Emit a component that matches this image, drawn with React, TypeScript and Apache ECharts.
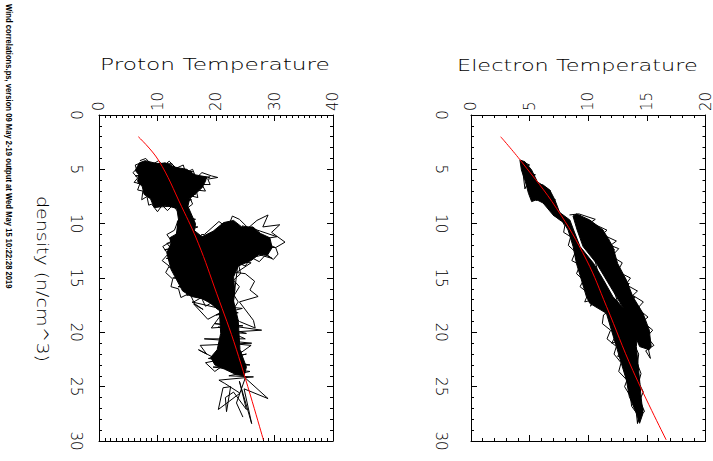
import React, { useEffect, useRef } from "react";
import * as echarts from "echarts";

// ---------- axis ranges ----------
const DENSITY_MAX = 30;
const DENSITY_STEP = 5;
const PROTON_T_MAX = 40;
const PROTON_T_STEP = 10;
const ELECTRON_T_MAX = 20;
const ELECTRON_T_STEP = 5;

// ---------- texts ----------
const TITLES = ["Proton Temperature", "Electron Temperature"];
const DENSITY_LABEL = "density (n/cm^3)";
const SIDE_NOTE =
  "Wind correlations.ps, version 09 May 2-19 output at Wed May 15 10:22:28 2019";

// ---------- data: [temperature, density] ----------
const PROTON_FIT = [
  [6.72, 2.0], [10.14, 4.14], [14.13, 8.44], [16.97, 11.8],
  [20.1, 16.4], [23.5, 21.6], [28.1, 29.9],
];
const ELECTRON_FIT = [
  [2.53, 2.0], [4.31, 4.3], [7.29, 8.58], [9.85, 13.34],
  [11.55, 17.6], [13.8, 23.5], [16.65, 29.9],
];

// dense (over-plotted) regions, outlined
const PROTON_BLOB_UPPER = [
  [6.9, 4.4], [7.9, 4.2], [10.1, 4.5], [11.3, 4.4], [13.0, 4.8], [15.0, 5.0],
  [16.4, 5.5], [18.4, 5.7], [18.2, 6.1], [17.6, 6.7], [16.6, 7.2],
  [15.5, 7.7], [15.2, 8.4], [16.5, 10.0], [16.2, 11.1], [13.2, 11.2], [13.7, 10.0],
  [13.3, 8.6], [11.3, 8.3], [9.4, 8.5], [8.8, 7.7], [7.7, 7.3], [7.4, 6.6],
  [6.6, 6.1], [6.8, 5.5], [6.2, 5.1], [6.6, 4.7],
];
const PROTON_BLOB_MIDDLE = [
  [14.1, 9.5], [15.3, 10.2], [17.6, 11.2], [19.5, 10.7], [21.3, 9.9], [23.0, 9.7],
  [24.4, 10.3], [26.3, 10.3], [27.6, 10.9], [29.2, 11.3], [29.6, 12.2], [28.8, 12.9],
  [27.4, 12.8], [26.0, 13.4], [23.8, 13.9], [23.0, 14.9], [23.2, 16.1], [22.9, 17.6],
  [22.0, 18.4], [20.3, 17.9], [19.0, 17.3], [17.6, 16.9], [15.8, 16.7], [14.3, 16.2],
  [13.2, 15.1], [12.3, 14.2], [11.6, 12.7], [12.3, 11.8], [12.1, 11.3], [13.4, 10.9],
  [13.4, 9.8],
];
const PROTON_BLOB_LOWER = [
  [20.8, 17.1], [23.0, 17.1], [23.8, 18.9], [24.1, 21.6], [25.2, 23.2], [24.8, 24.0],
  [23.5, 23.9], [21.5, 23.4], [19.8, 23.0], [19.1, 22.3], [20.2, 21.6], [20.8, 20.1],
  [20.6, 18.2],
];
const ELECTRON_BLOB_STRAND = [
  [4.17, 4.14], [4.6, 4.3], [5.17, 5.06], [5.73, 6.3], [6.15, 6.44], [6.72, 6.9],
  [7.15, 7.8], [7.57, 9.0], [8.0, 9.96], [7.57, 9.66], [7.0, 9.2], [6.15, 8.1],
  [5.6, 7.8], [5.17, 7.97], [4.9, 7.2], [4.6, 6.0], [4.3, 5.06],
];
const ELECTRON_BLOB_LOWER = [
  [7.29, 8.74], [8.28, 10.58], [8.71, 12.11], [8.99, 13.65], [9.42, 15.18], [9.84, 16.71],
  [10.13, 17.33], [11.55, 18.25], [11.97, 19.78], [12.4, 21.31], [12.82, 22.85],
  [13.25, 24.38], [13.5, 25.91], [14.1, 27.45], [14.38, 28.37], [14.67, 27.45],
  [14.5, 25.91], [14.38, 24.38], [14.24, 22.85], [14.1, 21.31], [14.24, 19.78],
  [13.4, 18.25], [12.1, 16.71], [11.3, 15.18], [10.45, 13.65], [9.3, 12.11],
  [8.75, 10.58], [8.43, 9.66],
];
const ELECTRON_BLOB_UPPER = [
  [8.7, 9.3], [9.05, 10.58], [9.56, 12.11], [10.7, 13.65], [11.55, 15.18], [12.4, 16.71],
  [13.25, 18.25], [13.8, 19.78], [14.38, 21.31], [15.2, 21.6], [15.37, 21.31],
  [15.2, 19.78], [14.67, 18.25], [13.8, 16.71], [13.25, 15.18], [12.5, 13.65],
  [12.1, 12.11], [11.26, 10.58], [10.13, 9.66], [9.0, 9.1],
];

// plotted trace (scribble strokes)
const PROTON_TRACE = [
  [7.0, 4.2], [8.0, 4.0], [9.0, 4.6], [10.2, 4.2], [11.0, 4.7], [12.0, 4.25],
  [13.2, 4.9], [14.4, 4.6], [14.8, 5.3], [16.0, 5.0], [16.6, 5.8], [17.6, 5.3],
  [19.2, 5.6], [20.3, 5.75], [18.6, 5.9], [19.0, 6.4], [17.6, 6.4], [18.2, 7.0],
  [16.6, 6.9], [16.9, 7.6], [15.4, 7.4], [16.0, 8.2], [15.0, 8.6], [14.2, 8.1],
  [13.5, 8.9], [12.6, 8.3], [11.7, 8.8], [10.8, 8.3], [10.0, 8.9], [9.0, 8.2],
  [8.5, 8.3], [8.2, 7.5], [7.3, 7.8], [7.5, 7.0], [6.6, 6.9], [7.0, 6.3],
  [6.0, 6.2], [6.6, 5.8], [5.8, 5.3], [6.4, 5.0], [6.2, 4.6], [7.2, 4.4],
  [12.5, 4.5], [6.5, 5.0], [16.0, 5.2], [6.2, 5.6], [19.0, 5.7], [17.5, 6.0],
  [6.6, 6.3], [17.8, 6.6], [7.5, 7.0], [16.5, 7.3], [8.5, 7.6], [15.8, 7.8],
  [9.5, 8.5], [14.5, 8.3], [13.8, 9.2], [16.5, 9.6], [13.5, 10.2], [16.9, 10.3],
  [13.2, 11.0], [13.6, 9.6], [12.9, 10.6], [11.6, 11.0], [12.4, 11.6], [10.9, 12.1],
  [11.8, 12.8], [10.8, 13.4], [12.0, 13.9], [11.4, 14.5], [12.6, 15.1], [12.3, 15.8],
  [13.6, 16.0], [14.0, 16.8], [15.5, 16.4], [16.2, 17.2], [17.5, 16.8], [18.2, 17.6],
  [19.5, 17.2], [11.6, 11.8], [18.0, 11.6], [11.2, 12.4], [19.5, 12.3], [11.5, 13.2],
  [20.5, 13.5], [12.0, 14.0], [21.0, 14.4], [12.6, 15.0], [22.5, 15.3], [13.5, 15.8],
  [23.0, 16.2], [15.0, 16.6], [17.5, 11.0], [18.0, 11.0], [20.5, 9.8], [22.0, 10.4],
  [22.8, 9.3], [24.0, 9.6], [25.5, 10.4], [27.0, 9.7], [28.9, 9.2], [28.0, 10.3],
  [30.9, 10.1], [29.5, 10.8], [31.8, 11.7], [30.2, 12.2], [30.6, 12.8], [29.8, 13.3],
  [28.6, 12.8], [27.4, 13.5], [26.0, 13.1], [25.0, 13.9], [23.8, 13.6], [24.2, 14.6],
  [23.0, 15.2], [24.0, 15.8], [23.1, 16.6], [23.8, 17.2], [22.8, 18.0], [24.5, 10.2],
  [26.0, 10.4], [30.4, 11.2], [27.0, 11.5], [30.2, 12.2], [22.0, 12.0], [29.6, 13.2],
  [25.5, 12.0], [27.8, 12.9], [23.5, 13.5], [26.0, 13.6], [23.5, 14.5], [25.0, 14.6],
  [26.6, 15.3], [25.8, 16.1], [27.2, 16.7], [24.0, 17.2], [26.4, 18.9], [26.7, 19.6],
  [24.0, 19.0], [20.3, 17.0], [22.5, 16.8], [21.0, 17.6], [24.5, 17.8], [20.0, 18.4],
  [23.8, 18.2], [15.9, 17.2], [17.8, 17.9], [16.2, 17.4], [18.6, 18.8], [21.4, 18.0],
  [19.2, 19.6], [24.6, 19.4], [19.8, 19.2], [27.8, 19.8], [22.0, 20.0], [25.2, 20.1],
  [20.4, 19.5], [25.0, 20.6], [18.0, 20.6], [20.5, 20.7], [26.1, 21.0], [17.3, 21.2],
  [18.4, 22.0], [17.0, 21.6], [20.6, 22.6], [22.0, 21.0], [26.0, 21.2], [23.4, 22.2],
  [25.2, 22.0], [18.2, 22.8], [19.8, 23.6], [24.4, 21.8], [18.7, 22.4], [25.8, 23.0],
  [19.5, 23.2], [25.8, 23.6], [22.2, 24.0], [26.4, 24.1], [20.5, 24.4], [21.5, 24.7],
  [24.1, 25.6], [20.4, 27.1], [21.2, 25.1], [22.5, 25.0], [21.8, 27.3], [21.6, 26.0],
  [23.0, 25.5], [25.2, 27.1], [24.0, 24.5], [26.1, 28.4], [24.8, 25.2], [28.9, 26.1],
  [25.0, 24.2], [23.5, 26.5], [24.6, 27.8],
];
const ELECTRON_TRACE_A = [
  [4.2, 4.2], [5.0, 4.6], [4.4, 5.0], [4.6, 6.8], [5.0, 5.8], [5.2, 7.8],
  [5.5, 6.8], [5.6, 7.9], [5.9, 7.0], [6.2, 8.1], [6.4, 7.5], [6.8, 8.6],
  [7.0, 8.3], [7.3, 9.3], [6.3, 6.6], [4.9, 7.0], [5.8, 6.3], [4.6, 6.0],
  [5.5, 5.5], [4.4, 5.2], [6.8, 7.0], [5.7, 7.8], [7.2, 7.8], [6.3, 8.0],
  [7.6, 9.0], [7.0, 9.2], [8.0, 9.8], [7.4, 9.0], [8.0, 10.2], [7.9, 10.8],
  [8.5, 11.2], [8.3, 12.0], [8.9, 12.6], [8.6, 13.4], [9.3, 13.8], [9.0, 14.6],
  [9.6, 15.2], [9.3, 15.8], [10.0, 16.4], [9.7, 17.2], [10.4, 17.0], [10.2, 17.6],
  [11.0, 15.5], [10.1, 16.9], [11.8, 16.4], [10.6, 17.2], [12.4, 17.6], [11.3, 18.4],
  [11.2, 19.2], [11.9, 19.8], [11.6, 20.6], [12.4, 21.3], [12.2, 22.0], [12.8, 22.8],
  [12.6, 23.6], [13.3, 24.4], [13.1, 25.0], [13.6, 25.9], [13.7, 26.8], [14.1, 27.4],
  [14.2, 28.4], [14.4, 27.6], [14.8, 27.3], [14.4, 26.2], [14.7, 25.5], [14.3, 24.6],
  [14.5, 23.8], [14.2, 22.9], [14.3, 22.0], [14.0, 21.3], [13.2, 18.6], [12.0, 21.0],
  [13.8, 20.4], [12.5, 22.2], [14.0, 22.5], [13.2, 24.1], [14.4, 24.7], [13.7, 25.9],
  [14.7, 27.1], [14.2, 28.3], [14.5, 26.5], [13.9, 27.0],
];
const ELECTRON_TRACE_B = [
  [8.4, 9.2], [9.2, 9.1], [10.6, 9.6], [10.2, 9.9], [11.6, 10.6], [11.2, 11.0],
  [12.4, 11.6], [11.9, 12.0], [12.6, 12.3], [12.0, 13.0], [12.9, 13.6], [12.5, 14.4],
  [13.6, 15.0], [13.2, 15.6], [14.2, 16.2], [13.8, 16.6], [14.7, 17.2], [14.2, 17.8],
  [15.1, 18.6], [14.6, 19.0], [15.5, 19.8], [15.0, 20.4], [15.6, 21.2], [14.9, 21.7],
  [15.3, 22.4], [15.1, 21.4], [14.4, 18.6], [15.0, 20.1], [14.0, 18.3], [13.5, 17.0],
  [14.0, 16.8], [13.0, 16.2], [13.5, 15.5], [12.8, 15.5], [13.0, 14.8], [11.8, 14.0],
  [12.5, 14.0], [11.3, 13.2], [12.25, 12.4], [10.7, 12.4], [11.8, 11.5], [9.6, 10.6],
  [10.4, 10.0], [9.0, 9.9], [9.3, 9.2], [10.2, 11.6], [10.8, 14.4], [11.5, 16.0],
  [12.6, 17.6], [11.9, 15.0], [12.9, 17.2],
];

const FONT = "DejaVu Sans";

function textWidth(text: string, font: string): number {
  const ctx = document.createElement("canvas").getContext("2d");
  if (!ctx) return text.length * 8;
  ctx.font = font;
  return ctx.measureText(text).width;
}

function buildAxes(gridIndex: number, tMax: number, tStep: number, tMinor: number, yMargin: number) {
  const line = { show: true, onZero: false, lineStyle: { color: "#000", width: 1 } };
  const tick = { show: true, inside: true, length: 6, lineStyle: { color: "#000", width: 1 } };
  const label = {
    show: true, rotate: -90, color: "#000", fontSize: 15, fontFamily: FONT,
    fontWeight: 200, showMinLabel: true, showMaxLabel: true, hideOverlap: false,
  };
  const base = {
    type: "value", gridIndex, axisLine: line, axisTick: tick,
    splitLine: { show: false }, minorSplitLine: { show: false },
  };
  const xTop = {
    ...base, position: "top", min: 0, max: tMax, interval: tStep,
    minorTick: { show: true, splitNumber: tMinor, length: 3, lineStyle: { color: "#000" } },
    axisLabel: { ...label, margin: 4 },
  };
  const xBottom = { ...xTop, position: "bottom", axisLabel: { show: false } };
  const yLeft = {
    ...base, position: "left", inverse: true, min: 0, max: DENSITY_MAX, interval: DENSITY_STEP,
    minorTick: { show: true, splitNumber: 5, length: 3, lineStyle: { color: "#000" } },
    axisLabel: { ...label, margin: yMargin },
  };
  const yRight = { ...yLeft, position: "right", axisLabel: { show: false } };
  return { x: [xTop, xBottom], y: [yLeft, yRight] };
}

function blobSeries(points: number[][], xi: number, yi: number) {
  return {
    type: "custom", xAxisIndex: xi, yAxisIndex: yi, silent: true, z: 2,
    data: points,
    renderItem: (params: any, api: any) => {
      if (params.dataIndex !== 0) return null;
      return {
        type: "polygon",
        shape: { points: points.map((p) => api.coord(p)) },
        style: { fill: "#000", stroke: "#000", lineWidth: 1 },
      };
    },
  };
}

function traceSeries(points: number[][], xi: number, yi: number, color = "#000", smooth = false) {
  return {
    type: "line", xAxisIndex: xi, yAxisIndex: yi, data: points, symbol: "none",
    showSymbol: false, smooth: smooth ? 0.4 : false, silent: true, z: color === "#000" ? 3 : 4,
    lineStyle: { color, width: 1 },
  };
}

export default function App() {
  const ref = useRef<HTMLDivElement>(null);
  useEffect(() => {
    if (!ref.current) return;
    const chart = echarts.init(ref.current, null, { renderer: "svg" });
    const p = buildAxes(0, PROTON_T_MAX, PROTON_T_STEP, 10, 16);
    const e = buildAxes(1, ELECTRON_T_MAX, ELECTRON_T_STEP, 5, 23);

    const titleFont = `200 15px "${FONT}"`;
    const t0 = textWidth(TITLES[0], titleFont);
    const t1 = textWidth(TITLES[1], titleFont);
    const dW = textWidth(DENSITY_LABEL, titleFont);
    const sideFont = `bold 9px "Liberation Sans Narrow", "Liberation Sans"`;
    const sW = textWidth(SIDE_NOTE, sideFont);

    const titleStyle = { fontSize: 15, fontFamily: FONT, fontWeight: 200, fill: "#000", textAlign: "left", textVerticalAlign: "middle" };

    chart.setOption({
      animation: false,
      backgroundColor: "#fff",
      grid: [
        { left: 99, top: 115, width: 234, height: 326 },
        { left: 471, top: 115, width: 235, height: 326 },
      ],
      xAxis: [...p.x, ...e.x],
      yAxis: [...p.y, ...e.y],
      series: [
        blobSeries(PROTON_BLOB_UPPER, 0, 0),
        blobSeries(PROTON_BLOB_MIDDLE, 0, 0),
        blobSeries(PROTON_BLOB_LOWER, 0, 0),
        traceSeries(PROTON_TRACE, 0, 0),
        traceSeries(PROTON_FIT, 0, 0, "#ff0000", true),
        blobSeries(ELECTRON_BLOB_STRAND, 2, 2),
        blobSeries(ELECTRON_BLOB_LOWER, 2, 2),
        blobSeries(ELECTRON_BLOB_UPPER, 2, 2),
        traceSeries(ELECTRON_TRACE_A, 2, 2),
        traceSeries(ELECTRON_TRACE_B, 2, 2),
        traceSeries(ELECTRON_FIT, 2, 2, "#ff0000", true),
      ],
      graphic: [
        { type: "text", x: 100, y: 65, scaleX: 230 / t0, style: { ...titleStyle, text: TITLES[0] } },
        { type: "text", x: 457, y: 65, scaleX: 241 / t1, style: { ...titleStyle, text: TITLES[1] } },
        {
          type: "text", x: 42, y: 196, rotation: -Math.PI / 2, scaleX: 166 / dW,
          style: { ...titleStyle, text: DENSITY_LABEL },
        },
        {
          type: "text", x: 9, y: 4, rotation: -Math.PI / 2, scaleX: 285 / sW,
          style: {
            text: SIDE_NOTE, fontSize: 9, fontWeight: "bold",
            fontFamily: '"Liberation Sans Narrow", "Liberation Sans"', fill: "#000",
            textAlign: "left", textVerticalAlign: "middle",
          },
        },
      ],
    });
    return () => chart.dispose();
  }, []);
  return (
    <div
      ref={ref}
      style={{ position: "fixed", left: 0, top: 0, width: 713, height: 461, background: "#fff" }}
    />
  );
}
